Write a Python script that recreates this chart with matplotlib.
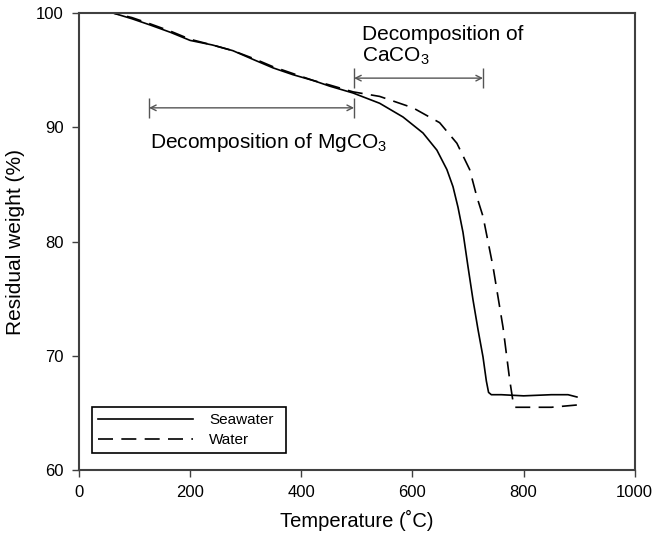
import numpy as np
import matplotlib.pyplot as plt

plt.rcParams['font.family'] = ['Liberation Sans', 'DejaVu Sans']
plt.rcParams['mathtext.default'] = 'regular'

# TGA curves: temperature (C) and residual weight (%)
t_sea = [45, 61, 95, 128, 165, 200, 240, 277, 315, 349, 385, 421, 451, 493,
         541, 583, 619, 644, 662, 673, 682, 691, 700, 709, 718, 727, 733,
         737, 742, 760, 800, 850, 880, 896]
w_sea = [100.0, 100.0, 99.5, 98.95, 98.3, 97.6, 97.2, 96.7, 95.9, 95.2,
         94.6, 94.1, 93.6, 93.0, 92.1, 90.9, 89.5, 88.0, 86.3, 84.8, 83.0,
         80.8, 77.8, 74.9, 72.3, 69.9, 67.8, 66.8, 66.6, 66.6, 66.5, 66.6,
         66.6, 66.4]

t_wat = [45, 61, 95, 128, 165, 200, 240, 277, 315, 349, 385, 421, 451, 493,
         541, 601, 649, 680, 703, 716, 727, 745, 763, 775, 781, 785, 800,
         850, 896]
w_wat = [100.0, 100.0, 99.6, 99.05, 98.4, 97.7, 97.2, 96.7, 96.0, 95.3,
         94.7, 94.1, 93.7, 93.1, 92.7, 91.7, 90.4, 88.6, 86.3, 83.9, 82.2,
         77.8, 72.5, 67.9, 66.0, 65.5, 65.5, 65.5, 65.7]

# temperature ranges of the two decomposition steps
mg_range = (126, 495)
ca_range = (495, 727)

x_ticks = [0, 200, 400, 600, 800, 1000]
y_ticks = [60, 70, 80, 90, 100]

fig = plt.figure(figsize=(6.53, 5.41), dpi=100)
ax = fig.add_axes([0.121, 0.131, 0.851, 0.845])

ax.plot(t_sea, w_sea, color='black', lw=1.2, label='Seawater')
ax.plot(t_wat, w_wat, color='black', lw=1.2, dashes=(9, 5), label='Water')

ax.set_xlim(0, 1000)
ax.set_ylim(60, 100)
ax.set_xticks(x_ticks)
ax.set_yticks(y_ticks)
ax.tick_params(direction='out', length=5, width=1, color='#404040',
               labelsize=12, pad=6)
for s in ax.spines.values():
    s.set_color('#404040')
    s.set_linewidth(1.5)

ax.set_xlabel('Temperature (\u02daC)', fontsize=14.5, labelpad=7)
ax.set_ylabel('Residual weight (%)', fontsize=15, labelpad=8)

# range arrows with end bars
def span(x0, x1, y, dy=0.9):
    ax.annotate('', xy=(x0, y), xytext=(x1, y),
                arrowprops=dict(arrowstyle='<->', color='#555555', lw=1,
                                shrinkA=0, shrinkB=0))
    ax.vlines([x0, x1], y - dy, y + dy, color='#555555', lw=1)

span(mg_range[0], mg_range[1], 91.7)
span(ca_range[0], ca_range[1], 94.3)

ax.text(128, 88.7, 'Decomposition of MgCO$_3$', fontsize=15,
        ha='left', va='center')
ax.text(510, 97.1, 'Decomposition of\nCaCO$_3$', fontsize=15,
        ha='left', va='center', linespacing=1.15)

leg = ax.legend(loc='lower left', bbox_to_anchor=(0.023, 0.037, 0.349, 0.153),
                mode='expand', fancybox=False, edgecolor='black',
                framealpha=1, fontsize=11, handlelength=6.2,
                handletextpad=1.1, borderaxespad=0, labelspacing=0.4)
leg.get_frame().set_linewidth(1.2)

fig.savefig('out.png', dpi=100)
